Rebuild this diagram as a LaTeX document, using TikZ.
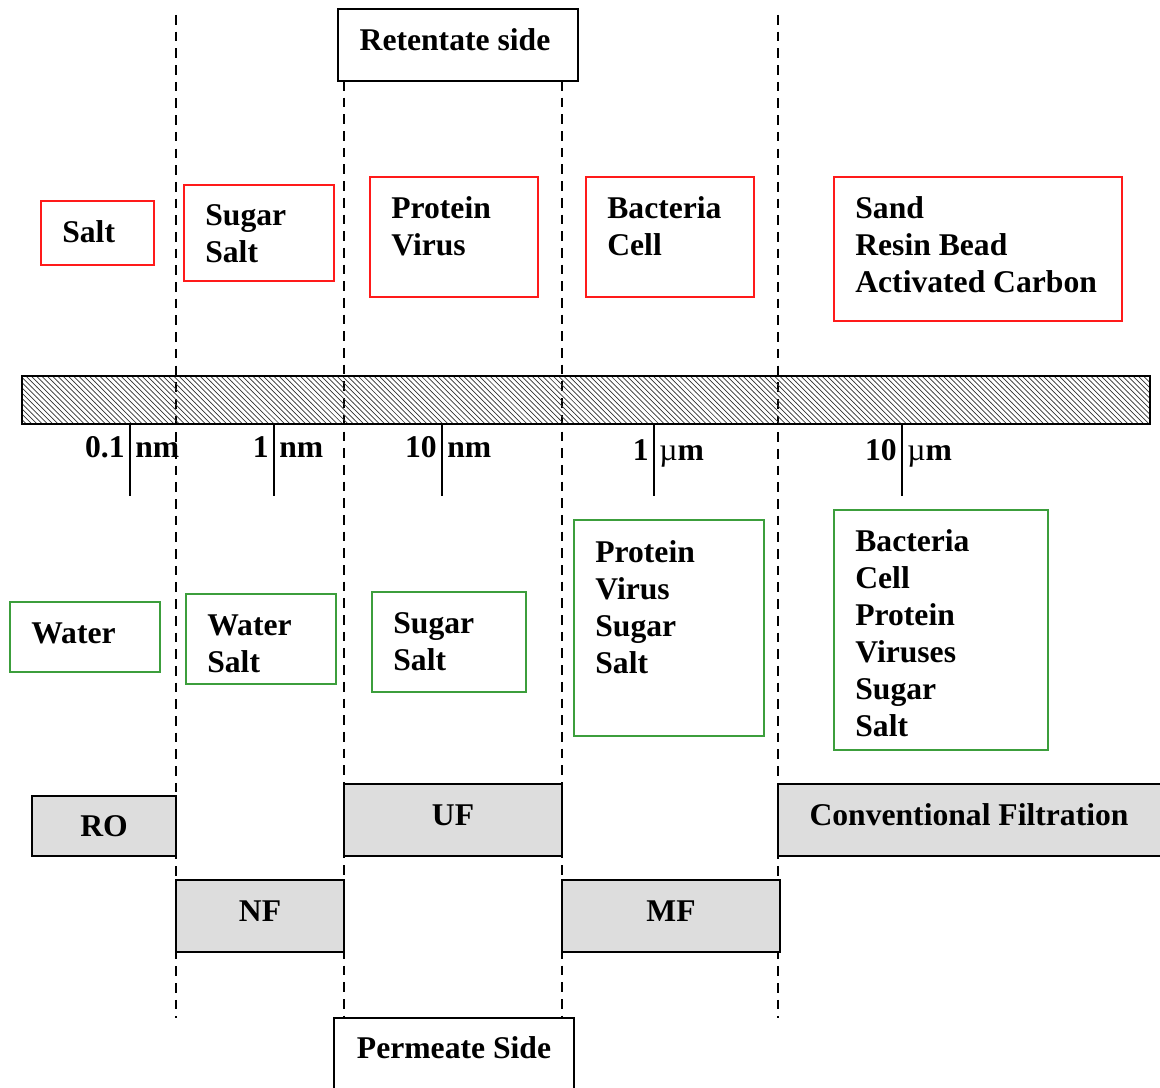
\documentclass[tikz,border=0pt]{standalone}
\usepackage{fontspec}
\setmainfont{Liberation Serif}
\usetikzlibrary{patterns}
\definecolor{boxred}{HTML}{FF1A1A}
\definecolor{boxgreen}{HTML}{3C9E3C}
\definecolor{procgray}{HTML}{DDDDDD}
\tikzset{
  lbl/.style={font={\fontsize{18}{21}\selectfont\bfseries},inner sep=0pt,align=left},
  redbox/.style={draw=boxred,line width=1.2pt},
  greenbox/.style={draw=boxgreen,line width=1.2pt},
  procbox/.style={draw=black,fill=procgray,line width=1.5pt},
  sidebox/.style={draw=black,fill=white,line width=1.2pt},
  divider/.style={line width=1.1pt,dash pattern=on 5.5pt off 4pt}
}
\begin{document}
\begin{tikzpicture}[x=0.02cm,y=-0.02cm]
        \useasboundingbox (0,0) rectangle (1160,1088);
        % dashed dividers
        \draw[divider] (176,15) -- (176,1018);
        \draw[divider] (344,81) -- (344,1018);
        \draw[divider] (562,81) -- (562,1018);
        \draw[divider] (778,15) -- (778,1018);
        % sides
        \draw[sidebox] (338,9) rectangle (578,81);
        \node[lbl] (retentate) at (455,40) {Retentate side};
        \draw[sidebox] (334,1018) rectangle (574,1095);
        \node[lbl] (permeate) at (454,1048) {Permeate Side};
        % membrane
        \draw[line width=1.2pt,pattern=north west lines,pattern color=black!80] (22,376) rectangle (1150,424);
        % size scale
        \foreach \xt/\yb/\num/\unit [count=\i] in {130/457/0.1/nm,274/457/1/nm,442/457/10/nm,654/460/1/{\mdseries µ}m,902/460/10/{\mdseries µ}m}{
            \draw[line width=1.1pt] (\xt,424) -- (\xt,496);
            \node[lbl,anchor=base east] (num\i) at (\xt-5,\yb) {\num};
            \node[lbl,anchor=base west] (unit\i) at (\xt+5,\yb) {\unit};
        }
        % retained
        \draw[redbox] (41,201) rectangle (154,265);
        \node[lbl,anchor=west] (ret1) at (62,232) {Salt};
        \draw[redbox] (184,185) rectangle (334,281);
        \node[lbl,anchor=west] (ret2) at (205,234) {Sugar\\Salt};
        \draw[redbox] (370,177) rectangle (538,297);
        \node[lbl,anchor=west] (ret3) at (391,226) {Protein\\Virus};
        \draw[redbox] (586,177) rectangle (754,297);
        \node[lbl,anchor=west] (ret4) at (607,226) {Bacteria\\Cell};
        \draw[redbox] (834,177) rectangle (1122,321);
        \node[lbl,anchor=west] (ret5) at (855,245) {Sand\\Resin Bead\\Activated Carbon};
        % passed
        \draw[greenbox] (10,602) rectangle (160,672);
        \node[lbl,anchor=west] (pass1) at (31,633) {Water};
        \draw[greenbox] (186,594) rectangle (336,684);
        \node[lbl,anchor=west] (pass2) at (207,644) {Water\\Salt};
        \draw[greenbox] (372,592) rectangle (526,692);
        \node[lbl,anchor=west] (pass3) at (393,642) {Sugar\\Salt};
        \draw[greenbox] (574,520) rectangle (764,736);
        \node[lbl,anchor=west] (pass4) at (595,607) {Protein\\Virus\\Sugar\\Salt};
        \draw[greenbox] (834,510) rectangle (1048,750);
        \node[lbl,anchor=west] (pass5) at (855,633) {Bacteria\\Cell\\Protein\\Viruses\\Sugar\\Salt};
        % processes
        \draw[procbox] (32,796) rectangle (176,856);
        \node[lbl] (ro) at (104,826) {RO};
        \draw[procbox] (176,880) rectangle (344,952);
        \node[lbl] (nf) at (260,911) {NF};
        \draw[procbox] (344,784) rectangle (562,856);
        \node[lbl] (uf) at (453,815) {UF};
        \draw[procbox] (562,880) rectangle (780,952);
        \node[lbl] (mf) at (671,911) {MF};
        \draw[procbox] (778,784) rectangle (1170,856);
        \node[lbl] (conv) at (969,815) {Conventional Filtration};
    \end{tikzpicture}
\end{document}
